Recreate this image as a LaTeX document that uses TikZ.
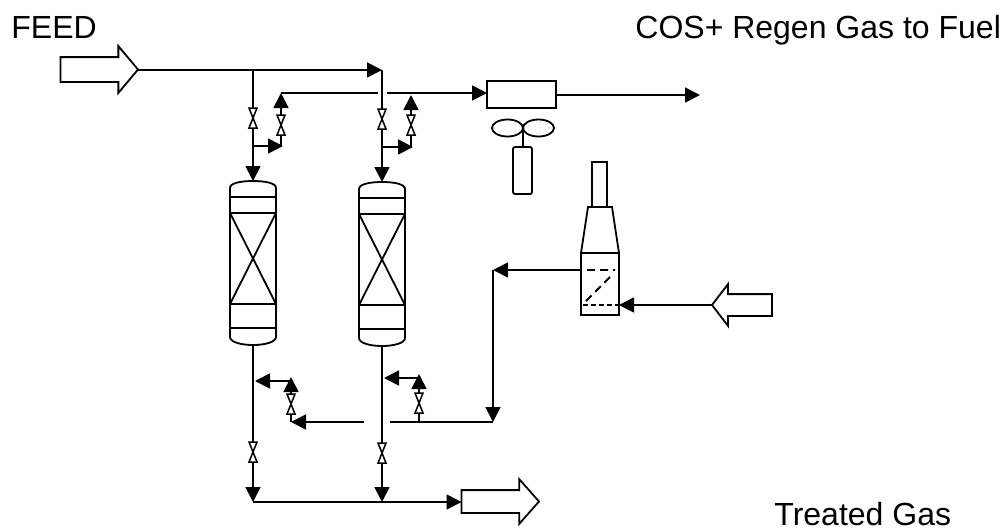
\documentclass[tikz,border=0pt]{standalone}
\usepackage{fontspec}
\setmainfont{Liberation Sans}
\usetikzlibrary{shapes.arrows}
\usetikzlibrary{shapes.geometric}
\usetikzlibrary{arrows.meta}
\begin{document}
\begin{tikzpicture}[
  x=1pt,y=-1pt,
  line width=1.8pt,
  line join=miter,
  flow/.style={-{Triangle[length=15pt,width=15pt,sep=0pt]}},
  textlabel/.style={font=\fontsize{32}{38}\selectfont,anchor=base west,inner sep=0pt},
  bigarrow/.style={draw,single arrow,inner sep=0pt,outer sep=0pt,single arrow head indent=0pt,anchor=tip},
  unit/.style={draw,rectangle,inner sep=0pt,outer sep=0pt},
  fanblade/.style={draw,ellipse,inner sep=0pt,outer sep=0pt,minimum width=31pt,minimum height=17pt},
  valve/.pic={\draw[fill=white,line width=1.5pt] (-4,-10) -- (4,-10) -- (-4,10) -- (4,10) -- cycle;},
  column/.pic={
    \coordinate (-top) at (0,0);
    \coordinate (-bot) at (0,164);
    \draw (-23,16) -- (-23,7) .. controls (-23,2) and (-12,0) .. (0,0)
      .. controls (12,0) and (23,2) .. (23,7) -- (23,16);
    \draw (-23,16) rectangle (23,147);
    \draw (-23,32) -- (23,32) (-23,123) -- (23,123);
    \draw (-23,32) -- (23,123) (23,32) -- (-23,123);
    \draw (-23,147) -- (-23,156) .. controls (-23,161) and (-12,164) .. (0,164)
      .. controls (12,164) and (23,161) .. (23,156) -- (23,147);
  }]
\useasboundingbox (0,0) rectangle (1003,531);

% labels
\node[textlabel] (feedlabel) at (10.5,38.5) {FEED};
\node[textlabel] (fuellabel) at (634.5,38.5) {COS+ Regen Gas to Fuel};
\node[textlabel] (treatedlabel) at (773.5,525) {Treated Gas};

% columns
\pic (colA) at (253,181) {column};
\pic (colB) at (382,182) {column};

% big arrows
\node[bigarrow,inner ysep=11.5pt,minimum height=77.5pt,single arrow head extend=11pt,
  single arrow tip angle=100] (feed) at (138,69.5) {};
\node[bigarrow,inner ysep=10.5pt,minimum height=77.5pt,single arrow head extend=11pt,
  single arrow tip angle=97] (treated) at (539,501.5) {};
\node[bigarrow,inner ysep=10pt,minimum height=60pt,single arrow head extend=10pt,
  single arrow tip angle=105,shape border rotate=180] (air) at (712,305) {};

% cooler and fan
\node[unit,minimum width=69pt,minimum height=27pt] (cooler) at (521.5,94.5) {};
\node[fanblade] (fanL) at (507.5,128) {};
\node[fanblade] (fanR) at (538.5,128) {};
\node[unit,rounded corners=2pt,minimum width=19pt,minimum height=47pt] (motor) at (522.5,170.5) {};
\draw (fanL.east) -- (fanL.east |- motor.north);

% heater
\node[unit,minimum width=15pt,minimum height=45pt] (stack) at (599.5,184.5) {};
\node[unit,minimum width=38pt,minimum height=62pt] (heater) at (600,284) {};
\draw (heater.north west) -- (588,207) -- (612,207) -- (heater.north east);
\coordinate (hotout) at (582,270);
\coordinate (hotcorner) at (493,270);
\draw[dash pattern=on 8pt off 5pt] (587,270) -- (615,270) (610,277) -- (583,304);
\draw[dash pattern=on 5pt off 3pt] (583,305) -- (618,305);

% feed header and inlet lines
\coordinate (feedend) at (382,70);
\coordinate (teeA) at (253,70);
\coordinate (teeAb) at (253,146);
\coordinate (teeB) at (382,147);
\draw[flow] (feed.tip |- feedend) -- (feedend);
\draw[flow] (teeA) -- (colA-top);
\draw[flow] (feedend) -- (colB-top);
\pic at (253,118) {valve};
\pic at (382,119) {valve};

% regen gas out of column tops
\coordinate (regenA) at (281,93);
\coordinate (regenB) at (411,95);
\coordinate (gapL) at (378,93);
\coordinate (gapR) at (387,93);
\coordinate (fuelend) at (700,95);
\draw[flow] (teeAb) -- (283,146);
\draw[flow] (teeB) -- (413,147);
\draw[flow] (281,146) -- (regenA);
\draw[flow] (411,147) -- (regenB);
\pic at (281,125) {valve};
\pic at (411,125) {valve};
\draw (regenA) -- (gapL);
\draw[flow] (gapR) -- (gapR -| cooler.west);
\draw[flow] (cooler.east |- fuelend) -- (fuelend);

% treated gas
\coordinate (outA) at (253,502);
\coordinate (outB) at (382,502);
\draw[flow] (colA-bot) -- (outA);
\draw[flow] (colB-bot) -- (outB);
\pic at (253,452) {valve};
\pic at (382,453) {valve};
\draw[flow] (outA) -- (outA -| treated.west);

% regen gas loop
\coordinate (loop) at (493,422);
\coordinate (gapM) at (390,422);
\coordinate (gapN) at (364,422);
\coordinate (riseA) at (291,422);
\coordinate (riseB) at (419,422);
\draw[flow] (air.tip) -- (air.tip -| heater.east);
\draw[flow] (hotout) -- (hotcorner);
\draw[flow] (hotcorner) -- (loop);
\draw (loop) -- (gapM);
\draw[flow] (gapN) -- (riseA);
\draw[flow] (riseA) -- (291,377);
\draw[flow] (riseB) -- (419,374);
\pic at (291,404) {valve};
\pic at (419,403) {valve};
\draw[flow] (291,381) -- (255,381);
\draw[flow] (419,378) -- (384,378);
\end{tikzpicture}
\end{document}
